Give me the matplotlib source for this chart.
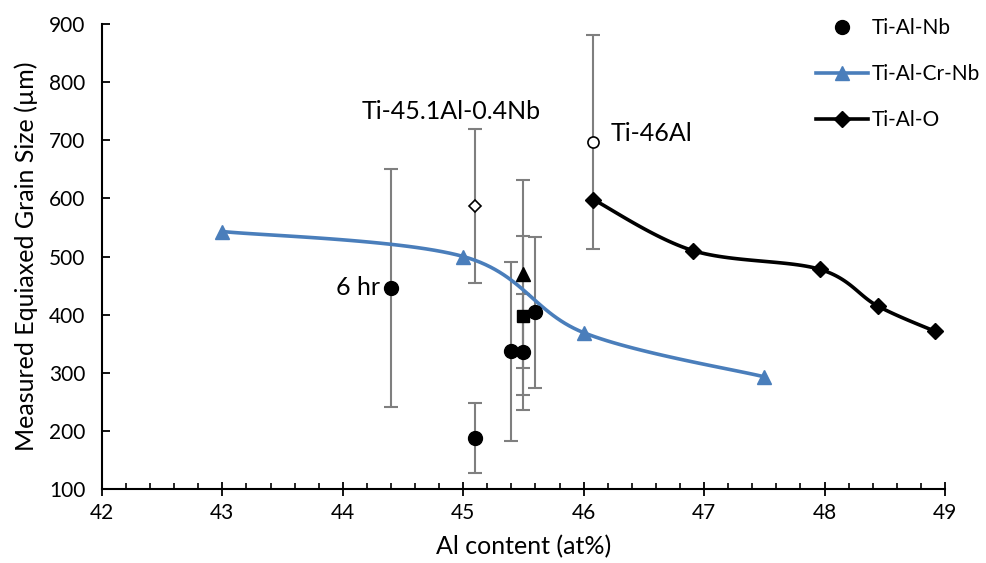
import numpy as np
import matplotlib
matplotlib.use("Agg")
import matplotlib.pyplot as plt

plt.rcParams['font.family'] = ['Lato', 'DejaVu Sans']

# Ti-Al-Nb (black circles with error bars)
nb_x = [44.4, 45.1, 45.4, 45.5, 45.6]
nb_y = [446, 188, 337, 336, 404]
nb_err = [205, 60, 154, 100, 130]

# Ti-Al-Cr-Nb (blue triangles, smoothed line)
crnb_x = [43.0, 45.0, 46.0, 47.5]
crnb_y = [543, 500, 369, 293]

# Ti-Al-O (black diamonds, smoothed line)
o_x = [46.08, 46.91, 47.96, 48.44, 48.92]
o_y = [598, 510, 478, 415, 371]

# extra single points at 45.5 Al
tri_x, tri_y, tri_err = 45.5, 470, 161
sq_x, sq_y, sq_err = 45.5, 398, 137

# annotated reference alloys
ref_nb_x, ref_nb_y, ref_nb_err = 45.1, 587, 132
ref_ti_x, ref_ti_y, ref_ti_err = 46.08, 697, 184


def smooth(xs, ys, sx=120.5, sy=0.58125, n=30):
    # Excel-like smoothed line (Catmull-Rom bezier) in pixel-ish space
    p = np.column_stack([np.array(xs) * sx, np.array(ys) * sy])
    p = np.vstack([p[0], p, p[-1]])
    out = []
    for i in range(1, len(p) - 2):
        p0, p1, p2, p3 = p[i - 1], p[i], p[i + 1], p[i + 2]
        c1 = p1 + (p2 - p0) / 6
        c2 = p2 - (p3 - p1) / 6
        t = np.linspace(0, 1, n)[:, None]
        seg = (1 - t) ** 3 * p1 + 3 * (1 - t) ** 2 * t * c1 + 3 * (1 - t) * t ** 2 * c2 + t ** 3 * p2
        out.append(seg)
    out = np.vstack(out)
    return out[:, 0] / sx, out[:, 1] / sy


fig = plt.figure(figsize=(9.87, 5.63), dpi=100)
ax = fig.add_axes([0.1033, 0.1314, 0.8541, 0.826])

ecol = '#7f7f7f'
ekw = dict(fmt='none', ecolor=ecol, elinewidth=1.5, capsize=5, capthick=1.5, zorder=2)

ax.errorbar(nb_x, nb_y, yerr=nb_err, **ekw)
ax.errorbar([tri_x, sq_x], [tri_y, sq_y], yerr=[tri_err, sq_err], **ekw)
ax.errorbar([ref_nb_x, ref_ti_x], [ref_nb_y, ref_ti_y], yerr=[ref_nb_err, ref_ti_err], **ekw)

blue = '#4a7ebb'
sx, sy = smooth(crnb_x, crnb_y)
ax.plot(sx, sy, color=blue, lw=2.6, zorder=3)
ax.plot(crnb_x, crnb_y, ls='none', marker='^', ms=10, color=blue, zorder=4)
h_crnb, = ax.plot([], [], color=blue, lw=2.6, marker='^', ms=10)

ox, oy = smooth(o_x, o_y)
ax.plot(ox, oy, color='black', lw=2.6, zorder=3)
ax.plot(o_x, o_y, ls='none', marker='D', ms=8.5, color='black', zorder=4)
h_o, = ax.plot([], [], color='black', lw=2.6, marker='D', ms=8.5)

h_nb, = ax.plot(nb_x, nb_y, ls='none', marker='o', ms=10, color='black', zorder=5)
ax.plot(tri_x, tri_y, ls='none', marker='^', ms=10, color='black', zorder=5)
ax.plot(sq_x, sq_y, ls='none', marker='s', ms=9, color='black', zorder=5)
ax.plot(ref_nb_x, ref_nb_y, ls='none', marker='D', ms=6.5, mfc='white', mec='black', mew=1.2, zorder=5)
ax.plot(ref_ti_x, ref_ti_y, ls='none', marker='o', ms=8, mfc='white', mec='black', mew=1.2, zorder=5)

ax.text(44.9, 750, 'Ti-45.1Al-0.4Nb', fontsize=18, ha='center', va='center')
ax.text(46.22, 711, 'Ti-46Al', fontsize=18, ha='left', va='center')
ax.text(44.31, 446, '6 hr', fontsize=18, ha='right', va='center')

ax.set_xlim(42, 49)
ax.set_ylim(100, 900)
ax.set_xticks(np.arange(42, 50, 1))
ax.set_xticks(np.arange(42, 49.01, 0.2), minor=True)
ax.set_yticks(np.arange(100, 901, 100))
ax.tick_params(axis='x', which='major', direction='inout', length=10, width=1.3, labelsize=15, pad=5)
ax.tick_params(axis='x', which='minor', direction='in', length=4.5, width=1.2)
ax.tick_params(axis='y', which='major', direction='in', length=5.5, width=1.3, labelsize=15, pad=12)
for s in ['top', 'right']:
    ax.spines[s].set_visible(False)
for s in ['left', 'bottom']:
    ax.spines[s].set_linewidth(1.5)

ax.set_xlabel('Al content (at%)', fontsize=18, labelpad=9)
ax.set_ylabel('Measured Equiaxed Grain Size (µm)', fontsize=18, labelpad=8)

leg = ax.legend([h_nb, h_crnb, h_o], ['Ti-Al-Nb', 'Ti-Al-Cr-Nb', 'Ti-Al-O'],
                loc='upper left', bbox_to_anchor=(816 / 987, 1 - 18 / 563),
                bbox_transform=fig.transFigure, frameon=False, borderpad=0, borderaxespad=0,
                fontsize=15, handlelength=2.5, labelspacing=1.25, handletextpad=0.2)

fig.savefig('out.png', dpi=100)
